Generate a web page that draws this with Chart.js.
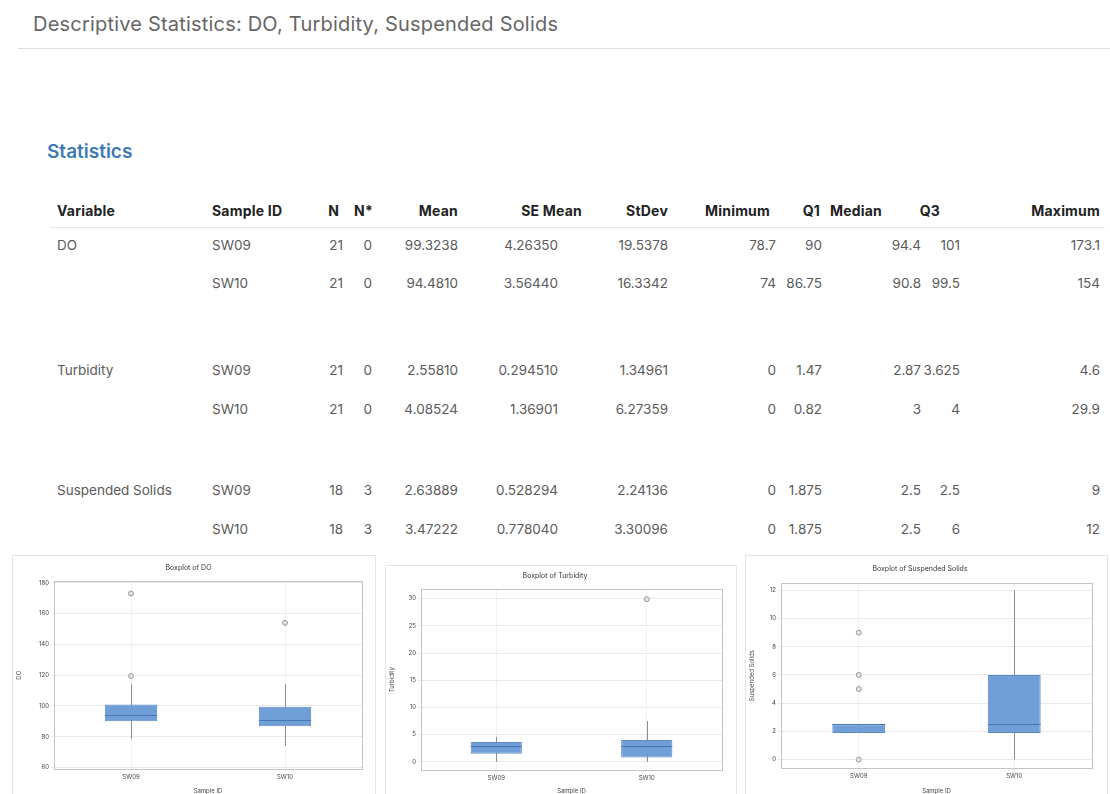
<!DOCTYPE html>
<html>
<head>
<meta charset="utf-8">
<script src="https://cdn.jsdelivr.net/npm/chart.js@4.4.0/dist/chart.umd.min.js"></script>
<style>
  body { margin: 0; width: 1110px; height: 794px; background: #fff; position: relative; overflow: hidden;
         font-family: Inter, "Noto Sans", sans-serif; color: #555; }
  .title { position: absolute; left: 33px; top: 12px; font-size: 20px; color: #666; letter-spacing: 0.2px; }
  .rule { position: absolute; left: 18px; right: 0; top: 48px; border-top: 1px solid #ddd; }
  .stat-head { position: absolute; left: 47px; top: 140px; font-size: 19px; font-weight: 600; color: #3d7ab3; }
  .cell { position: absolute; font-size: 13.5px; white-space: nowrap; transform: translateY(-50%); color: #5a5a5a; }
  .hd { font-weight: 700; color: #222; font-size: 14px; letter-spacing: 0.2px; }
  .hline { position: absolute; left: 50px; width: 1055px; border-top: 1px solid #e8e8e8; }
  .panel { position: absolute; background: #fff; border: 1px solid #e4e4e4; box-sizing: border-box; }
  .panel canvas { position: absolute; left: 0; top: 0; }
</style>
</head>
<body>
<div class="title">Descriptive Statistics: DO, Turbidity, Suspended Solids</div>
<div class="rule"></div>
<div class="stat-head">Statistics</div>
<div id="table"></div>

<div class="panel" style="left:12px;top:555px;width:364px;height:245px"><canvas id="doChart" width="362" height="239"></canvas></div>
<div class="panel" style="left:385px;top:565px;width:352px;height:235px"><canvas id="turbChart" width="350" height="229"></canvas></div>
<div class="panel" style="left:745px;top:555px;width:363px;height:245px"><canvas id="ssChart" width="361" height="239"></canvas></div>

<script>
// ----- TABLE DATA -----
const headers = ['Variable', 'Sample ID', 'N', 'N*', 'Mean', 'SE Mean', 'StDev', 'Minimum', 'Q1', 'Median', 'Q3', 'Maximum']
const variables = ['DO', '', 'Turbidity', '', 'Suspended Solids', '']
const sampleCol = ['SW09', 'SW10', 'SW09', 'SW10', 'SW09', 'SW10']
const nCol = ['21', '21', '21', '21', '18', '18']
const nStarCol = ['0', '0', '0', '0', '3', '3']
const meanCol = ['99.3238', '94.4810', '2.55810', '4.08524', '2.63889', '3.47222']
const seMeanCol = ['4.26350', '3.56440', '0.294510', '1.36901', '0.528294', '0.778040']
const stDevCol = ['19.5378', '16.3342', '1.34961', '6.27359', '2.24136', '3.30096']
const minCol = ['78.7', '74', '0', '0', '0', '0']
const q1Col = ['90', '86.75', '1.47', '0.82', '1.875', '1.875']
const medianCol = ['94.4', '90.8', '2.87', '3', '2.5', '2.5']
const q3Col = ['101', '99.5', '3.625', '4', '2.5', '6']
const maxCol = ['173.1', '154', '4.6', '29.9', '9', '12']

// ----- CHART DATA -----
const sampleIds = ['SW09', 'SW10']

const doQ1 = [90, 86.75], doMedian = [94.4, 90.8], doQ3 = [101, 99.5]
const doWhiskerLo = [78.7, 74], doWhiskerHi = [114, 114]
const doOutliers = [[119.5, 173.1], [154]]
const doTicks = [60, 80, 100, 120, 140, 160, 180]

const turbQ1 = [1.47, 0.82], turbMedian = [2.87, 3], turbQ3 = [3.625, 4]
const turbWhiskerLo = [0, 0], turbWhiskerHi = [4.6, 7.5]
const turbOutliers = [[], [29.9]]
const turbTicks = [0, 5, 10, 15, 20, 25, 30]

const ssQ1 = [1.875, 1.875], ssMedian = [2.5, 2.5], ssQ3 = [2.5, 6]
const ssWhiskerLo = [1.875, 0], ssWhiskerHi = [2.5, 12]
const ssOutliers = [[0, 5, 6, 9], []]
const ssTicks = [0, 2, 4, 6, 8, 10, 12]

// ----- TABLE LAYOUT -----
const columns = [variables, sampleCol, nCol, nStarCol, meanCol, seMeanCol, stDevCol, minCol, q1Col, medianCol, q3Col, maxCol]
const colLeft = [57, 212]                        // left aligned columns
const headRight = [0, 0, 339, 373, 458, 582, 668, 770, 820, 882, 940, 1100]
const valRight = [0, 0, 343, 372, 458, 558, 668, 776, 822, 921, 960, 1100]
const headerY = 210
const rowY = [245, 283, 370, 409, 490, 529]

const tableEl = document.getElementById('table')
function addCell(text, x, y, right, cls) {
  const d = document.createElement('div')
  d.className = 'cell ' + (cls || '')
  d.textContent = text
  d.style.top = y + 'px'
  if (right) d.style.right = (1110 - x) + 'px'
  else d.style.left = x + 'px'
  tableEl.appendChild(d)
}
headers.forEach((h, c) => {
  if (c < 2) addCell(h, colLeft[c], headerY, false, 'hd')
  else addCell(h, headRight[c], headerY, true, 'hd')
})
const hl = document.createElement('div')
hl.className = 'hline'
hl.style.top = '227px'
tableEl.appendChild(hl)
columns.forEach((col, c) => {
  col.forEach((v, r) => {
    if (!v) return
    if (c < 2) addCell(v, colLeft[c], rowY[r])
    else addCell(v, valRight[c], rowY[r], true)
  })
})

// ----- BOXPLOT PARTS (whiskers, medians, frame) -----
const boxParts = {
  id: 'boxParts',
  beforeDatasetsDraw(chart, args, opts) {
    const { ctx, scales: { x, y } } = chart
    ctx.save()
    ctx.strokeStyle = '#8c8c8c'
    ctx.lineWidth = 1
    opts.lo.forEach((lo, i) => {
      const px = Math.round(x.getPixelForValue(i)) + 0.5
      ctx.beginPath()
      ctx.moveTo(px, y.getPixelForValue(lo))
      ctx.lineTo(px, y.getPixelForValue(opts.hi[i]))
      ctx.stroke()
    })
    ctx.restore()
  },
  afterDatasetsDraw(chart, args, opts) {
    const { ctx, scales: { y }, chartArea: a } = chart
    const bars = chart.getDatasetMeta(0).data
    ctx.save()
    ctx.strokeStyle = '#4a77b0'
    ctx.lineWidth = 1
    opts.median.forEach((m, i) => {
      const b = bars[i]
      const py = Math.round(y.getPixelForValue(m)) + 0.5
      ctx.beginPath()
      ctx.moveTo(b.x - b.width / 2, py)
      ctx.lineTo(b.x + b.width / 2, py)
      ctx.stroke()
    })
    ctx.strokeStyle = '#c4c4c4'
    ctx.strokeRect(Math.round(a.left) + 0.5, Math.round(a.top) + 0.5, Math.round(a.right - a.left), Math.round(a.bottom - a.top))
    ctx.restore()
  },
}

function makeBoxplot(id, s) {
  const outlierPts = []
  s.outliers.forEach((list, i) => list.forEach((v) => outlierPts.push({ x: sampleIds[i], y: v })))
  const tickFont = { size: 6, family: 'Inter, "Noto Sans", sans-serif' }
  return new Chart(document.getElementById(id), {
    type: 'bar',
    data: {
      labels: sampleIds,
      datasets: [
        {
          data: s.q1.map((v, i) => [v, s.q3[i]]),
          backgroundColor: '#709fd8',
          borderColor: '#5c8ac4',
          borderWidth: 1,
          borderSkipped: false,
          barPercentage: 0.34,
          categoryPercentage: 1,
        },
        {
          type: 'line',
          data: outlierPts,
          showLine: false,
          pointRadius: 2.5,
          pointBackgroundColor: '#e2e2e2',
          pointBorderColor: '#9a9a9a',
          pointBorderWidth: 1,
        },
      ],
    },
    options: {
      responsive: false,
      animation: false,
      layout: { padding: { left: 2, right: s.padRight, top: 0, bottom: 0 } },
      plugins: {
        legend: { display: false },
        tooltip: { enabled: false },
        title: {
          display: true,
          text: s.title,
          color: '#333',
          font: { size: 7, weight: 'normal', family: 'Inter, "Noto Sans", sans-serif' },
          padding: s.titlePad,
        },
        boxParts: { lo: s.lo, hi: s.hi, median: s.median },
      },
      scales: {
        x: {
          offset: true,
          grid: { display: true, offset: false, color: '#f1f1f1', drawTicks: true, tickLength: 3 },
          border: { display: false },
          ticks: { color: '#444', font: tickFont, padding: 2 },
          title: { display: true, text: 'Sample ID', color: '#444', font: tickFont, padding: 0 },
          afterFit: (sc) => { sc.height = s.xHeight },
        },
        y: {
          min: s.min,
          max: s.max,
          afterBuildTicks: (sc) => { sc.ticks = s.ticks.map((v) => ({ value: v })) },
          grid: { color: '#e9e9e9', tickLength: 3 },
          border: { display: false },
          ticks: { color: '#444', font: tickFont, padding: 2 },
          title: { display: true, text: s.yTitle, color: '#444', font: tickFont, padding: 1 },
          afterFit: (sc) => { sc.width = s.yWidth },
        },
      },
    },
    plugins: [boxParts],
  })
}

makeBoxplot('doChart', {
  title: 'Boxplot of DO', yTitle: 'DO',
  q1: doQ1, q3: doQ3, median: doMedian, lo: doWhiskerLo, hi: doWhiskerHi, outliers: doOutliers,
  ticks: doTicks, min: 59, max: 181,
  padRight: 13, yWidth: 39, xHeight: 26, titlePad: { top: 8, bottom: 9 },
})
makeBoxplot('turbChart', {
  title: 'Boxplot of Turbidity', yTitle: 'Turbidity',
  q1: turbQ1, q3: turbQ3, median: turbMedian, lo: turbWhiskerLo, hi: turbWhiskerHi, outliers: turbOutliers,
  ticks: turbTicks, min: -1.5, max: 31.7,
  padRight: 14, yWidth: 33, xHeight: 25, titlePad: { top: 6, bottom: 9 },
})
makeBoxplot('ssChart', {
  title: 'Boxplot of Suspended Solids', yTitle: 'Suspended Solids',
  q1: ssQ1, q3: ssQ3, median: ssMedian, lo: ssWhiskerLo, hi: ssWhiskerHi, outliers: ssOutliers,
  ticks: ssTicks, min: -0.6, max: 12.5,
  padRight: 15, yWidth: 33, xHeight: 27, titlePad: { top: 9, bottom: 10 },
})
</script>
</body>
</html>
